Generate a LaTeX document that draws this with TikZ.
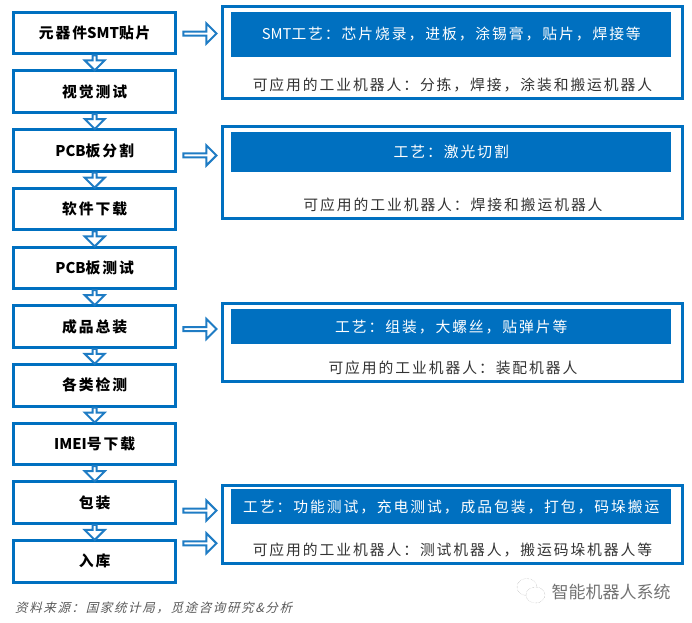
\documentclass[tikz,border=0pt]{standalone}
\usepackage{xcolor}
\usepackage{fontspec}
\setmainfont{Noto Sans CJK SC}[LetterSpace=13]
\newfontfamily\srcfont{Noto Sans CJK SC}[LetterSpace=13,FakeSlant=0.25]
\newfontfamily\markfont{Noto Sans CJK SC}
\usetikzlibrary{shapes.geometric,shapes.arrows,positioning}
\definecolor{procblue}{HTML}{0070C0}
\definecolor{arrowblue}{HTML}{1F7CC4}
\tikzset{
    stepbox/.style={rectangle, draw=procblue, line width=3pt, minimum width=161.5pt, minimum height=41.6pt, inner sep=0pt, align=center, font=\fontsize{14.8}{16}\bfseries, fill=white},
    panel/.style={rectangle, draw=procblue, line width=3pt, minimum width=459.5pt, inner sep=0pt},
    headbar/.style={rectangle, fill=procblue, minimum width=440pt, inner sep=0pt, align=center, text=white, font=\fontsize{14.8}{16}\selectfont},
    usage/.style={inner sep=0pt, text=black!80, font=\fontsize{14.8}{16}\selectfont},
    downflow/.style={single arrow, draw=arrowblue, line width=2pt, fill=white, shape border rotate=270, minimum height=15pt, minimum width=20pt, single arrow head extend=4pt, inner sep=0pt},
    rightflow/.style={single arrow, draw=arrowblue, line width=2pt, fill=white, minimum height=33pt, minimum width=20pt, single arrow head extend=4pt, inner sep=0pt},
}
\begin{document}
\begin{tikzpicture}[x=1pt, y=-1pt, node distance=14.1pt]
    \useasboundingbox (0,0) rectangle (692,622);
    % left column
    \node[stepbox] (b1) at (94.7,33) {元器件{\markfont SMT}贴片};
    \node[stepbox, below=of b1] (b2) {视觉测试};
    \node[stepbox, below=of b2] (b3) {{\markfont PCB}板分割};
    \node[stepbox, below=of b3] (b4) {软件下载};
    \node[stepbox, below=of b4] (b5) {{\markfont PCB}板测试};
    \node[stepbox, below=of b5] (b6) {成品总装};
    \node[stepbox, below=of b6] (b7) {各类检测};
    \node[stepbox, below=of b7] (b8) {{\markfont IMEI}号下载};
    \node[stepbox, below=of b8] (b9) {包装};
    \node[stepbox, below=of b9] (b10) {入库};

    \node[downflow, below=-1pt of b1] (d1) {};
    \node[downflow, below=-1pt of b2] (d2) {};
    \node[downflow, below=-1pt of b3] (d3) {};
    \node[downflow, below=-1pt of b4] (d4) {};
    \node[downflow, below=-1pt of b5] (d5) {};
    \node[downflow, below=-1pt of b6] (d6) {};
    \node[downflow, below=-1pt of b7] (d7) {};
    \node[downflow, below=-1pt of b8] (d8) {};
    \node[downflow, below=-1pt of b9] (d9) {};

    % right column
    \node[panel, minimum height=92pt] (p1) at (452.3,52.5) {};
    \node[headbar, minimum height=45pt] (h1) at (451.3,34.2) {{\markfont SMT}工艺：芯片烧录，进板，涂锡膏，贴片，焊接等};
    \node[usage] (u1) at (452.5,85) {可应用的工业机器人：分拣，焊接，涂装和搬运机器人};

    \node[panel, minimum height=92pt] (p2) at (452.3,172.5) {};
    \node[headbar, minimum height=40pt] (h2) at (451.3,151.7) {工艺：激光切割};
    \node[usage] (u2) at (453,205) {可应用的工业机器人：焊接和搬运机器人};

    \node[panel, minimum height=78.6pt] (p3) at (452.3,342.5) {};
    \node[headbar, minimum height=35pt] (h3) at (451.3,326.8) {工艺：组装，大螺丝，贴弹片等};
    \node[usage] (u3) at (453,367.7) {可应用的工业机器人：装配机器人};

    \node[panel, minimum height=78pt] (p4) at (452.3,524.5) {};
    \node[headbar, minimum height=34.7pt] (h4) at (451.3,506.7) {工艺：功能测试，充电测试，成品包装，打包，码垛搬运};
    \node[usage] (u4) at (452.5,550) {可应用的工业机器人：测试机器人，搬运码垛机器人等};

    \node[rightflow, right=5.5pt of b1, yshift=-0.5pt] (r1) {};
    \node[rightflow, right=5.5pt of b3, yshift=-5pt] (r3) {};
    \node[rightflow, right=5.5pt of b6, yshift=-2.5pt] (r6) {};
    \node[rightflow, right=5.5pt of b9, yshift=-8pt] (r9) {};
    \node[rightflow, right=5.5pt of b10, yshift=18pt] (r10) {};

    % footer
    \node[inner sep=0pt, anchor=west, text=black!65, font=\srcfont\fontsize{12.5}{14}\selectfont] (src) at (15,607.7) {资料来源：国家统计局，觅途咨询研究\&分析};
    \node[inner sep=0pt, anchor=west, text=black!55, font=\markfont\fontsize{17}{19}\selectfont] (mark) at (551.5,591.7) {智能机器人系统};
    \node[ellipse, draw=black!35, densely dotted, minimum width=20pt, minimum height=17pt, inner sep=0pt] (logoa) at (527,587) {};
    \node[ellipse, draw=black!35, densely dotted, minimum width=19pt, minimum height=16pt, inner sep=0pt, fill=white] (logob) at (535.5,595) {};
\end{tikzpicture}
\end{document}
